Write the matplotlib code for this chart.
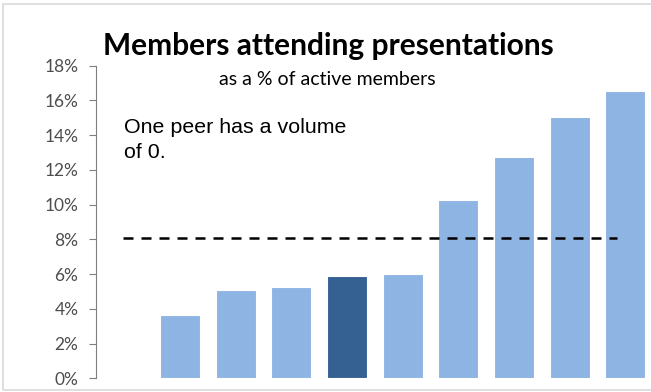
import matplotlib
matplotlib.use("Agg")
import matplotlib.pyplot as plt
from matplotlib.patches import Rectangle
from matplotlib.ticker import PercentFormatter

# share of active members attending presentations, one bar per peer
peers = list(range(10))
attendance = [0.0, 3.64, 5.10, 5.26, 5.89, 6.02, 10.25, 12.76, 15.06, 16.56]
highlight = 4
benchmark = 8.06

light = "#8EB4E3"
dark = "#356092"
colors = [dark if i == highlight else light for i in peers]

fig = plt.figure(figsize=(6.51, 3.92), dpi=100)
fig.patch.set_facecolor("white")

# thin grey frame round the whole chart
fig.add_artist(Rectangle((0.004, 0.005), 1.2, 0.985, transform=fig.transFigure,
                         fill=False, edgecolor="#D9D9D9", linewidth=1.2))

ax = fig.add_axes([0.1482, 0.035, 0.855, 0.7975])
ax.bar(peers, attendance, width=0.72, color=colors, edgecolor="white", linewidth=0.8, zorder=2)
ax.hlines(benchmark, -0.03, 8.86, colors="black", linestyles=(0, (4, 3.2)), linewidth=1.8, zorder=3)

ax.set_xlim(-0.5, 9.5)
ax.set_ylim(0, 18)
ax.set_yticks(range(0, 19, 2))
ax.yaxis.set_major_formatter(PercentFormatter(decimals=0))
ax.set_xticks([])
for side in ("top", "right", "bottom"):
    ax.spines[side].set_visible(False)
ax.spines["left"].set_color("#7F7F7F")
ax.tick_params(axis="y", direction="out", length=5, color="#7F7F7F", width=0.8,
               labelsize=12.5, labelcolor="#4D4D4D", pad=8)
for lbl in ax.get_yticklabels():
    lbl.set_fontfamily("Lato")

fig.text(0.5045, 1 - 55 / 392, "Members attending presentations", ha="center", va="baseline",
         fontsize=21.5, fontweight="bold", family="Lato")
fig.text(0.503, 1 - 85 / 392, "as a % of active members", ha="center", va="baseline",
         fontsize=14, family="Lato")
ax.text(0.0, 15.0, "One peer has a volume\nof 0.", ha="left", va="top",
        fontsize=15.4, family="Liberation Sans", linespacing=1.4)

fig.savefig("out.png", dpi=100)
